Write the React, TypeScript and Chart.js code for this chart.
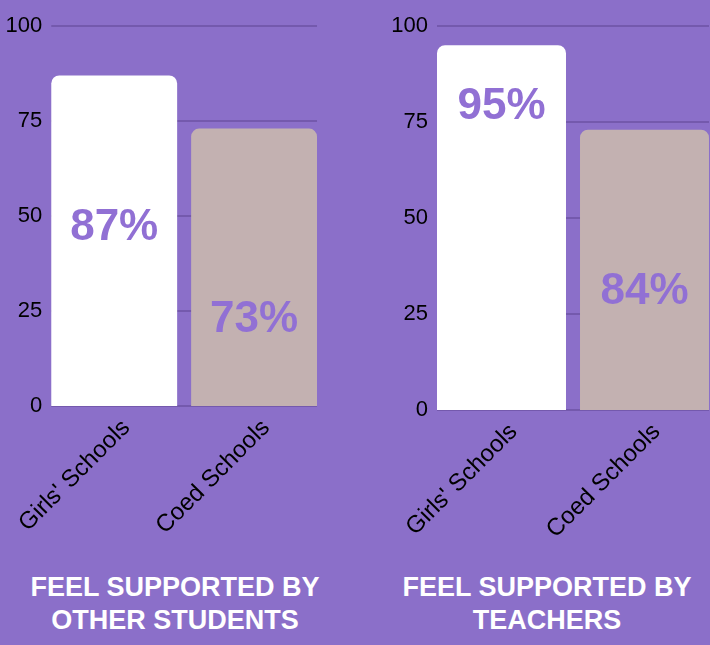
import React, { useEffect, useRef } from "react";
import { Chart, registerables } from "chart.js";

Chart.register(...registerables);

const categories = ["Girls' Schools", "Coed Schools"];
const studentsValues = [87, 73];
const teachersValues = [95, 73];
const studentsLabels = ["87%", "73%"];
const teachersLabels = ["95%", "84%"];
const studentsLabelPos = [47, 22.6];
const teachersLabelPos = [79, 30.7];
const yTickValues = [0, 25, 50, 75, 100];
const studentsTitle = ["FEEL SUPPORTED BY", "OTHER STUDENTS"];
const teachersTitle = ["FEEL SUPPORTED BY", "TEACHERS"];

const BG = "#8b6fc9";
const GRID = "#7459ad";
const WHITE = "#ffffff";
const TAUPE = "#c3b1b1";
const LABEL = "#9170d4";

function makeConfig(
  values: number[],
  texts: string[],
  pos: number[],
  yWidth: number,
  xHeight: number,
  padRight: number,
  barPct: number
): any {
  const gridPlugin = {
    id: "barGrid",
    beforeDatasetsDraw(chart: any) {
      const ctx = chart.ctx;
      const meta = chart.getDatasetMeta(0);
      const y = chart.scales.y;
      const first = meta.data[0];
      const last = meta.data[meta.data.length - 1];
      const x0 = first.x - first.width / 2;
      const x1 = last.x + last.width / 2;
      ctx.save();
      ctx.strokeStyle = GRID;
      ctx.lineWidth = 2;
      yTickValues.forEach((v) => {
        const py = Math.round(y.getPixelForValue(v));
        ctx.beginPath();
        ctx.moveTo(x0, py);
        ctx.lineTo(x1, py);
        ctx.stroke();
      });
      ctx.restore();
    },
  };
  const labelPlugin = {
    id: "barTexts",
    afterDatasetsDraw(chart: any) {
      const ctx = chart.ctx;
      const meta = chart.getDatasetMeta(0);
      const y = chart.scales.y;
      ctx.save();
      ctx.fillStyle = LABEL;
      ctx.font = "bold 44px 'Liberation Sans', Arial, sans-serif";
      ctx.textAlign = "center";
      ctx.textBaseline = "middle";
      meta.data.forEach((bar: any, i: number) => {
        ctx.fillText(texts[i], bar.x, y.getPixelForValue(pos[i]));
      });
      ctx.restore();
    },
  };
  return {
    type: "bar",
    data: {
      labels: categories,
      datasets: [
        {
          data: values,
          backgroundColor: [WHITE, TAUPE],
          borderRadius: { topLeft: 8, topRight: 8, bottomLeft: 0, bottomRight: 0 },
          borderSkipped: false,
          barPercentage: barPct,
          categoryPercentage: 1,
        },
      ],
    },
    options: {
      responsive: false,
      animation: false,
      layout: { padding: { top: 26, right: padRight, left: 0, bottom: 0 } },
      plugins: { legend: { display: false }, tooltip: { enabled: false } },
      scales: {
        x: {
          grid: { display: false },
          border: { display: false },
          ticks: {
            color: "#000",
            font: { family: "'Liberation Sans', Arial, sans-serif", size: 24 },
            minRotation: 45,
            maxRotation: 45,
            autoSkip: false,
            padding: 0,
            labelOffset: 12,
          },
          afterFit(scale: any) {
            scale.height = xHeight;
          },
        },
        y: {
          min: 0,
          max: 100,
          afterBuildTicks(scale: any) {
            scale.ticks = yTickValues.map((v) => ({ value: v }));
          },
          grid: { display: false, drawTicks: false },
          border: { display: false },
          ticks: {
            color: "#000",
            font: { family: "'Liberation Sans', Arial, sans-serif", size: 22 },
            padding: 2,
          },
          afterFit(scale: any) {
            scale.width = yWidth;
          },
        },
      },
    },
    plugins: [gridPlugin, labelPlugin],
  };
}

function Panel(props: {
  left: number;
  width: number;
  values: number[];
  texts: string[];
  pos: number[];
  yWidth: number;
  padRight: number;
  bottom: number;
  barPct: number;
}) {
  const ref = useRef<HTMLCanvasElement>(null);
  const H = 560;
  useEffect(() => {
    if (!ref.current) return;
    const chart = new Chart(
      ref.current,
      makeConfig(props.values, props.texts, props.pos, props.yWidth, H - props.bottom, props.padRight, props.barPct)
    );
    return () => chart.destroy();
  }, []);
  return (
    <canvas
      ref={ref}
      width={props.width}
      height={H}
      style={{ position: "absolute", left: props.left, top: 0, width: props.width, height: H, display: "block" }}
    />
  );
}

const titleStyle: React.CSSProperties = {
  position: "absolute",
  top: 571,
  width: 360,
  textAlign: "center",
  color: "#fff",
  fontFamily: "'Liberation Sans', Arial, sans-serif",
  fontWeight: 700,
  fontSize: 27,
  lineHeight: "33px",
};

export default function App() {
  return (
    <div style={{ position: "fixed", left: 0, top: 0, width: 710, height: 645, background: BG, overflow: "hidden" }}>
      <Panel
        left={0}
        width={330}
        values={studentsValues}
        texts={studentsLabels}
        pos={studentsLabelPos}
        yWidth={44}
        padRight={6}
        bottom={406}
        barPct={0.9}
      />
      <Panel
        left={380}
        width={340}
        values={teachersValues}
        texts={teachersLabels}
        pos={teachersLabelPos}
        yWidth={50}
        padRight={4}
        bottom={410}
        barPct={0.902}
      />
      <div style={{ ...titleStyle, left: 175 - 180 }}>
        {studentsTitle.map((t) => (
          <div key={t}>{t}</div>
        ))}
      </div>
      <div style={{ ...titleStyle, left: 547 - 180 }}>
        {teachersTitle.map((t) => (
          <div key={t}>{t}</div>
        ))}
      </div>
    </div>
  );
}
